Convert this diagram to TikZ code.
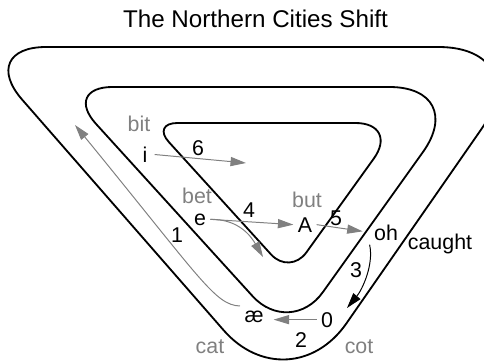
\documentclass[tikz,border=0pt]{standalone}
\usepackage{fontspec}
\setmainfont{Liberation Sans}
\usetikzlibrary{arrows.meta, positioning, calc}
\definecolor{ShiftGray}{HTML}{808080}
\definecolor{ShiftBlack}{HTML}{000000}
\tikzset{
    % Outlines of the vowel space
    lane/.style={
        draw=ShiftBlack,
        line width=1.3pt,
        line join=round
    },
    % Text styles
    vowel/.style={
        anchor=base,
        inner sep=3pt,
        text=ShiftBlack,
        font=\fontsize{15.2}{18}\selectfont
    },
    word/.style={
        vowel,
        text=ShiftGray
    },
    stepnum/.style={
        vowel
    },
    % Arrow styles
    shift arrow/.style={
        -{Triangle[length=11pt, width=6.5pt]},
        draw=ShiftGray,
        line width=0.7pt
    },
    chain arrow/.style={
        shift arrow,
        draw=ShiftBlack
    }
}
\begin{document}
\begin{tikzpicture}[x=0.025cm, y=-0.025cm]
    \useasboundingbox (0,0) rectangle (484,360);
    \clip (0,0) rectangle (484,360);

    % Title
    \node[vowel, font=\fontsize{17.2}{20}\selectfont] (title) at (255.5,28) {The Northern Cities Shift};

    % Outer lane
    \draw[lane] (200,47) -- (438.4,47)
        .. controls (493.6,47) and (512.9,83.8) .. (481.4,129.1)
        -- (346.4,323.4)
        .. controls (314.9,368.7) and (259.9,371.8) .. (223.6,330.2)
        -- (22.2,99.7)
        .. controls (-3.3,70.6) and (7.4,47) .. (46.1,47) -- cycle;

    % Middle lane
    \draw[lane] (200,87) -- (389.4,87)
        .. controls (433.6,87) and (448.6,116.1) .. (422.9,152.1)
        -- (322.9,292.1)
        .. controls (305.0,317.3) and (273.5,319.1) .. (252.7,296.3)
        -- (96.1,124.0)
        .. controls (77.5,103.6) and (84.8,87) .. (112.45,87) -- cycle;

    % Inner lane
    \draw[lane] (250,123) -- (355.4,123)
        .. controls (379.7,123) and (387.9,139.0) .. (373.7,158.7)
        -- (306.3,252.5)
        .. controls (297.2,265.0) and (281.5,265.9) .. (271.1,254.5)
        -- (169.0,142.2)
        .. controls (159.3,131.6) and (163.1,123) .. (177.5,123) -- cycle;

    % Vowels
    \node[vowel] (v-i) at (145,162) {i};
    \node[vowel] (v-e) at (200,225) {e};
    \node[vowel] (v-A) at (305,232) {A};
    \node[vowel] (v-oh) at (386,240) {oh};
    \node[vowel] (v-0) at (327,327) {0};
    \node[vowel] (v-ae) at (254,322) {æ};

    % Words
    \node[word] (w-bit) at (139,132) {bit};
    \node[word] (w-bet) at (197,203) {bet};
    \node[word] (w-but) at (307,207) {but};
    \node[vowel] (w-caught) at (440,249) {caught};
    \node[word] (w-cot) at (359,353) {cot};
    \node[word] (w-cat) at (210,353) {cat};

    % Steps
    \node[stepnum] (s1) at (177,242) {1};
    \node[stepnum] (s2) at (301,347) {2};
    \node[stepnum] (s3) at (356,277) {3};
    \node[stepnum] (s4) at (249,217) {4};
    \node[stepnum] (s5) at (336,225) {5};
    \node[stepnum] (s6) at (198,155) {6};

    % Arrow ends
    \coordinate (i-tip) at (246,163);
    \coordinate (e-tip) at (263,257);
    \coordinate (oh-tip) at (347,308);
    \coordinate (bit-tip) at (75,125);

    % Arrows
    \draw[shift arrow, shorten <=2pt] (v-i.east) -- (i-tip);
    \draw[shift arrow] (v-e.east) -- (v-A.west);
    \draw[shift arrow] (v-e.east) .. controls (240,219) and (252,238) .. (e-tip);
    \draw[shift arrow, shorten >=5pt] (v-A.east) -- (v-oh.west);
    \draw[chain arrow] (v-oh.south west) .. controls (374,265) and (362,290) .. (oh-tip);
    \draw[shift arrow, shorten >=4pt] (v-0.west) -- (v-0.west -| v-ae.east);
    \draw[shift arrow] (v-ae.north west) .. controls (215,305) and (201.6,279.8) .. (bit-tip);
\end{tikzpicture}
\end{document}
